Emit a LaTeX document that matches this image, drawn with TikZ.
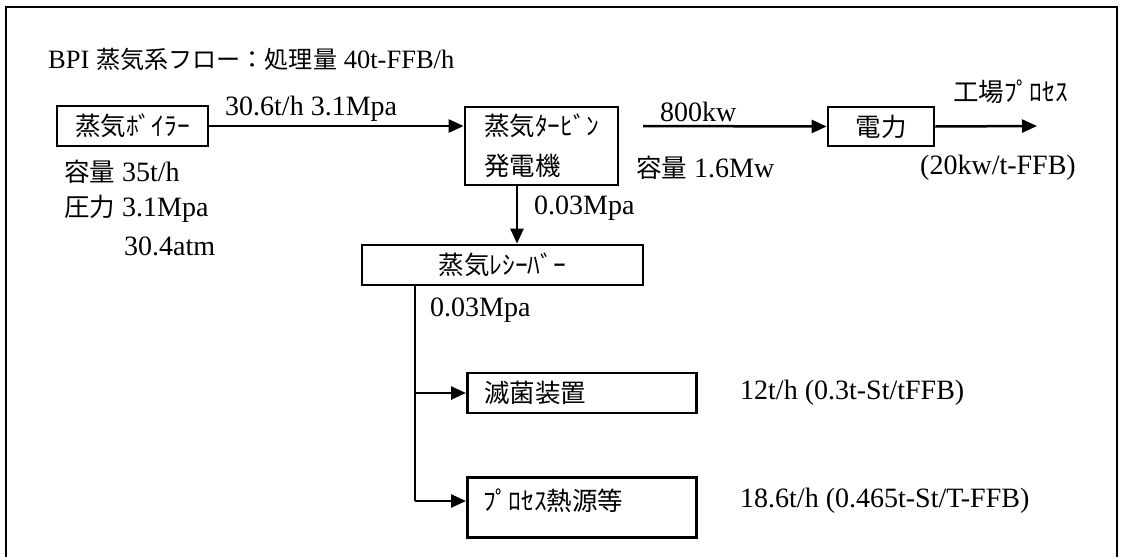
\documentclass[tikz,border=0pt]{standalone}
\usepackage{fontspec}
\setmainfont{Liberation Serif}
\newfontfamily\jp[Scale=0.91]{Noto Sans CJK JP}
\usetikzlibrary{arrows.meta, positioning}

\begin{document}
\begin{tikzpicture}[
    x=1pt, y=-1pt,
    font=\fontsize{28}{40}\selectfont,
    unit/.style={rectangle, draw, line width=2.7pt, inner sep=0pt},
    lbl/.style={inner sep=0pt, anchor=west},
    arr/.style={-{Triangle[length=15pt, width=13pt]}, line width=2.5pt},
    pipe/.style={line width=2.5pt}
  ]
    \useasboundingbox (0,0) rectangle (1123,557);

    %% ── Frame (cut off at the bottom)
    \draw[line width=2.8pt] (6,557) -- (6,7) -- (1117,7) -- (1117,557);

    %% ── Title
    \node[lbl, font=\fontsize{26.5}{30}\selectfont] (title) at (48,59)
          {BPI {\jp 蒸気系フロー：処理量} 40t-FFB/h};

    %% ── Row 1: boiler, turbine, power
    \node[unit, minimum width=151pt, minimum height=40pt] (boiler) at (132.5,126) {\jp 蒸気ﾎﾞｲﾗｰ};
    \node[unit, minimum width=153pt, minimum height=78pt, align=left] (turbine) at (541.5,146)
          {\jp 蒸気ﾀｰﾋﾞﾝ\\\jp 発電機};
    \node[unit, minimum width=106pt, minimum height=39pt] (power) at (881,126.5) {\jp 電力};

    %% ── Receiver and consumers
    \node[unit, minimum width=281pt, minimum height=40pt] (recv) at (502.5,265) {\jp 蒸気ﾚｼｰﾊﾞｰ};
    \node[unit, minimum width=229pt, minimum height=40pt, anchor=west,
          text width=229pt, align=left] (steril) at (466,393) {\hspace{17pt}\jp 滅菌装置};
    \node[unit, minimum width=229pt, minimum height=60pt, anchor=north west] (proc) at (466,476) {};
    \node[lbl] (proctxt) at (483,501) {\jp ﾌﾟﾛｾｽ熱源等};

    %% Free ends
    \coordinate (pwin)  at (643,126);
    \coordinate (pwout) at (1037,126);
    \coordinate (split) at (415,501);

    %% Arrows
    \draw[arr] (boiler.east) -- (turbine.west |- boiler.east);
    \draw[arr] (pwin) -- (power.west);
    \draw[arr] (power.east) -- (pwout);
    \draw[arr] (turbine.south -| 517,0) -- (recv.north -| 517,0);
    \draw[pipe] (recv.south -| split) -- (split);
    \draw[arr] (split |- steril.west) -- (steril.west);
    \draw[arr] (split) -- (split -| proc.west);

    %% Labels
    \node[lbl, anchor=south west] (flow)  at (225,122) {30.6t/h 3.1Mpa};
    \node[lbl, anchor=south west] (kw)    at (660,122) {800kw};
    \node[lbl] (plant) at (953,92)  {\jp 工場ﾌﾟﾛｾｽ};
    \node[lbl] (cap1)  at (64,172)  {{\jp 容量} 35t/h};
    \node[lbl] (pres)  at (64,209)  {{\jp 圧力} 3.1Mpa};
    \node[lbl] (atm)   at (124,246) {30.4atm};
    \node[lbl] (cap2)  at (636,168) {{\jp 容量} 1.6Mw};
    \node[lbl] (ratio) at (920,168) {(20kw/t-FFB)};
    \node[lbl] (exh)   at (534,208) {0.03Mpa};
    \node[lbl] (rcvp)  at (430,310) {0.03Mpa};
    \node[lbl] (stflow) at (740,393) {12t/h (0.3t-St/tFFB)};
    \node[lbl] (prflow) at (740,501) {18.6t/h (0.465t-St/T-FFB)};

  \end{tikzpicture}
\end{document}
